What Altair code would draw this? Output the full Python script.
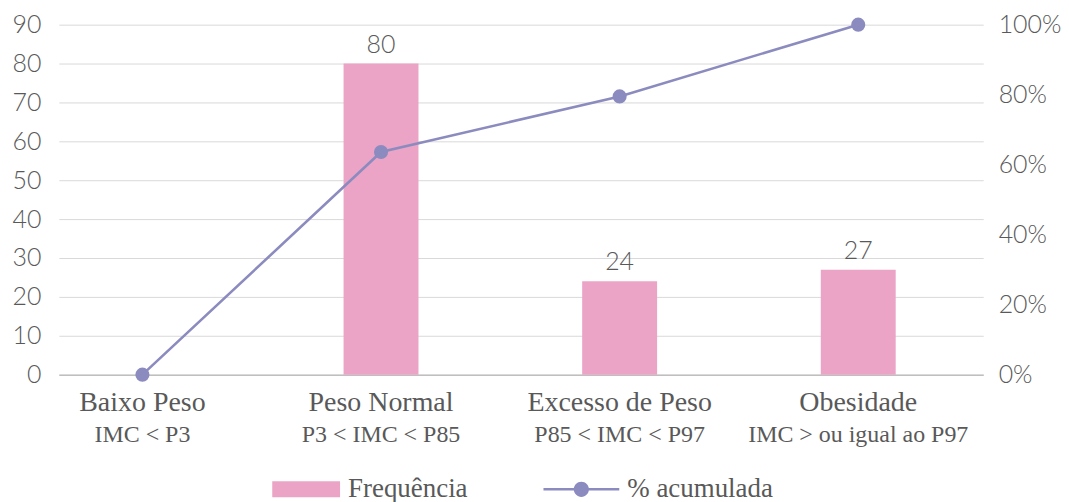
import json
import altair as alt
import pandas as pd

categorias = ["Baixo Peso", "Peso Normal", "Excesso de Peso", "Obesidade"]
subtitulos = ["IMC < P3", "P3 < IMC < P85", "P85 < IMC < P97", "IMC > ou igual ao P97"]
frequencia = [0, 80, 24, 27]
acumulada = [0.0, 0.636, 0.795, 1.0]
series = ["Frequência", "% acumulada"]

df = pd.DataFrame({"cat": categorias, "freq": frequencia, "acum": acumulada})

PINK = "#eba4c6"
PURPLE = "#8b8bbf"
GRAY = "#595959"
SERIF = "Liberation Serif"
SANS = "Lato"

xscale = alt.Scale(domain=categorias, paddingInner=0.686, paddingOuter=0.28, align=0.345)

sub_expr = "{}[indexof({}, datum.value)]".format(json.dumps(subtitulos), json.dumps(categorias))

base = alt.Chart(df)

bars = base.transform_calculate(serie=json.dumps(series[0])).mark_bar().encode(
    x=alt.X("cat:N", scale=xscale, sort=categorias,
            axis=alt.Axis(title=None, orient="bottom", labelAngle=0, ticks=False, domain=True,
                          domainColor="#bfbfbf", domainWidth=1.5, labelLimit=400,
                          labelFont=SERIF, labelFontSize=28, labelColor=GRAY,
                          labelPadding=36, labelBaseline="alphabetic")),
    y=alt.Y("freq:Q", scale=alt.Scale(domain=[0, 90], nice=False),
            axis=alt.Axis(title=None, values=list(range(0, 91, 10)), grid=True,
                          gridColor="#d9d9d9", gridWidth=1, domain=False, ticks=False,
                          labelFont=SANS, labelFontSize=25, labelFontWeight=300,
                          labelColor=GRAY, labelPadding=18)),
    color=alt.Color("serie:N",
                    scale=alt.Scale(domain=[series[0]], range=[PINK]),
                    legend=alt.Legend(orient="none", legendX=214, legendY=432,
                                      title=None,
                                      symbolType="M-1,-0.235H1V0.235H-1Z",
                                      symbolSize=4624, symbolStrokeWidth=0,
                                      symbolOpacity=1,
                                      labelFont=SERIF, labelFontSize=27,
                                      labelColor=GRAY, labelOffset=8)),
)

labels = base.transform_filter("datum.freq > 0").mark_text(
    font=SANS, fontSize=25, fontWeight=300, color=GRAY, baseline="alphabetic", dy=-11
).encode(
    x=alt.X("cat:N", scale=xscale, sort=categorias, axis=None),
    y=alt.Y("freq:Q", scale=alt.Scale(domain=[0, 90], nice=False), axis=None),
    text=alt.Text("freq:Q"),
)

line = base.mark_line(color=PURPLE, strokeWidth=2.6).encode(
    x=alt.X("cat:N", scale=xscale, sort=categorias,
            axis=alt.Axis(title=None, orient="bottom", labelAngle=0, ticks=False, domain=False,
                          labelFont=SERIF, labelFontSize=24, labelColor=GRAY,
                          labelPadding=67, labelBaseline="alphabetic", labelLimit=400,
                          labelExpr=sub_expr)),
    y=alt.Y("acum:Q", scale=alt.Scale(domain=[0, 1], nice=False),
            axis=alt.Axis(title=None, orient="right", format="%",
                          values=[0, 0.2, 0.4, 0.6, 0.8, 1.0], grid=False,
                          domain=False, ticks=False,
                          labelFont=SANS, labelFontSize=25, labelFontWeight=300,
                          labelColor=GRAY, labelPadding=15)),
)

line_sym = ("M-1,-0.033H1V0.033H-1Z "
            "M0.2,0A0.2,0.2 0 1,1 -0.2,0A0.2,0.2 0 1,1 0.2,0Z")

points = base.transform_calculate(serie=json.dumps(series[1])).mark_point(
    filled=True, size=200, opacity=1
).encode(
    x=alt.X("cat:N", scale=xscale, sort=categorias, axis=None),
    y=alt.Y("acum:Q", scale=alt.Scale(domain=[0, 1], nice=False), axis=None),
    color=alt.Color("serie:N",
                    scale=alt.Scale(domain=[series[1]], range=[PURPLE]),
                    legend=alt.Legend(orient="none", legendX=486, legendY=428,
                                      title=None, symbolType=line_sym,
                                      symbolSize=5776, symbolStrokeWidth=0,
                                      symbolOpacity=1,
                                      labelFont=SERIF, labelFontSize=27,
                                      labelColor=GRAY, labelOffset=8)),
)

chart = alt.layer(bars, labels, line, points).resolve_scale(
    y="independent", color="independent"
).resolve_axis(
    x="independent", y="independent"
).resolve_legend(
    color="independent"
).properties(
    width=927, height=351,
    padding={"left": 3, "top": 4, "right": 0, "bottom": 0},
).configure_view(stroke=None)

chart.save("out.html", embed_options={"renderer": "svg", "actions": False})
